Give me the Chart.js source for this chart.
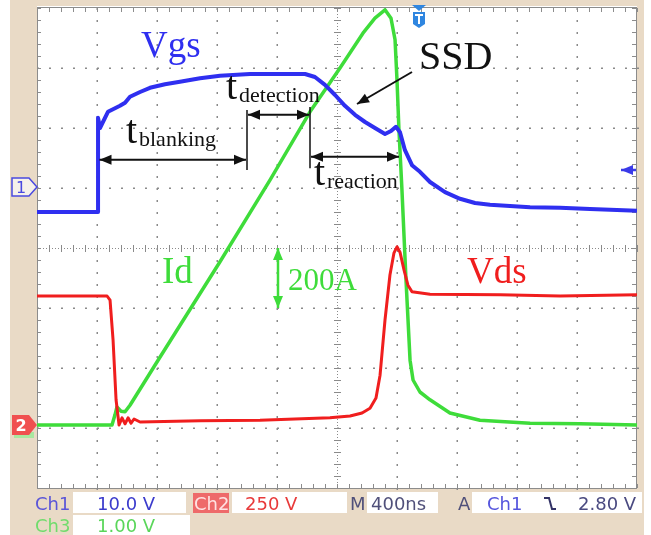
<!DOCTYPE html>
<html>
<head>
<meta charset="utf-8">
<script src="https://cdn.jsdelivr.net/npm/chart.js@4/dist/chart.umd.min.js"></script>
<style>
  body { margin: 0; background: #fff; }
  #wrap { width: 651px; height: 535px; }
</style>
</head>
<body>
<div id="wrap"><canvas id="scope" width="651" height="535"></canvas></div>
<script>
// time in ns (10 div x 400 ns), level in screen divisions (-4..4)
var vgsTime  = [0, 400, 407, 407, 420, 473, 520, 553, 587, 620, 687, 753, 853, 953, 1087, 1220, 1420, 1620, 1787, 1853, 1920, 1987, 2053, 2120, 2187, 2253, 2320, 2360, 2393, 2420, 2453, 2500, 2553, 2620, 2720, 2820, 2920, 3020, 3153, 3287, 3487, 3687, 4000];
var vgsLevel = [0.6, 0.6, 0.6, 2.17, 2.0, 2.27, 2.33, 2.37, 2.42, 2.52, 2.6, 2.67, 2.73, 2.77, 2.83, 2.87, 2.9, 2.9, 2.9, 2.85, 2.72, 2.55, 2.37, 2.22, 2.1, 2.0, 1.9, 1.95, 2.02, 1.93, 1.63, 1.38, 1.27, 1.1, 0.93, 0.82, 0.75, 0.72, 0.7, 0.68, 0.67, 0.65, 0.62];

var vdsTime  = [0, 467, 487, 507, 527, 547, 567, 587, 607, 627, 647, 687, 1087, 1487, 1953, 2087, 2167, 2220, 2260, 2287, 2320, 2353, 2380, 2400, 2420, 2447, 2473, 2500, 2620, 3087, 3487, 4000];
var vdsLevel = [-0.8, -0.8, -0.87, -1.53, -2.53, -2.95, -2.83, -2.93, -2.83, -2.92, -2.85, -2.9, -2.88, -2.87, -2.83, -2.8, -2.75, -2.67, -2.5, -2.12, -1.2, -0.45, -0.08, 0.02, -0.07, -0.37, -0.62, -0.73, -0.77, -0.78, -0.8, -0.78];

var idTime  = [0, 500, 520, 533, 560, 587, 620, 807, 1220, 1553, 1820, 2020, 2173, 2253, 2320, 2360, 2387, 2400, 2413, 2433, 2460, 2487, 2507, 2553, 2620, 2753, 2953, 3287, 3620, 4000];
var idLevel = [-2.95, -2.95, -2.78, -2.65, -2.72, -2.73, -2.62, -1.87, -0.23, 1.13, 2.27, 3.0, 3.58, 3.83, 3.97, 3.83, 3.47, 2.8, 1.97, 0.97, -0.53, -1.87, -2.2, -2.4, -2.53, -2.75, -2.87, -2.92, -2.93, -2.95];

// interval markers (ns)
var markTimes = [410, 1400, 1820, 2420];

var statusRow1 = ['Ch1', '10.0 V', 'Ch2', '250 V', 'M', '400ns', 'A', 'Ch1', '2.80 V'];
var statusRow2 = ['Ch3', '1.00 V'];

var BLUE = '#2f2ff0', RED = '#f01e1e', GREEN = '#3edc3a', BEIGE = '#e9dac6';

function pts(t, v) {
  return t.map(function (x, i) { return { x: x, y: v[i] }; });
}

function arrowHead(ctx, x, y, ang, len, half) {
  ctx.save();
  ctx.translate(x, y);
  ctx.rotate(ang);
  ctx.beginPath();
  ctx.moveTo(0, 0);
  ctx.lineTo(-len, -half);
  ctx.lineTo(-len, half);
  ctx.closePath();
  ctx.fill();
  ctx.restore();
}

function arrow(ctx, x1, y1, x2, y2, both, color, w) {
  var ang = Math.atan2(y2 - y1, x2 - x1);
  ctx.strokeStyle = color;
  ctx.fillStyle = color;
  ctx.lineWidth = w;
  ctx.beginPath();
  ctx.moveTo(x1, y1);
  ctx.lineTo(x2, y2);
  ctx.stroke();
  arrowHead(ctx, x2, y2, ang, 12, 5);
  if (both) arrowHead(ctx, x1, y1, ang + Math.PI, 12, 5);
}

var scopeScreen = {
  id: 'scopeScreen',
  beforeDraw: function (chart) {
    var ctx = chart.ctx, a = chart.chartArea;
    var xs = chart.scales.x, ys = chart.scales.y;
    ctx.save();
    ctx.fillStyle = '#fff';
    ctx.fillRect(0, 0, chart.width, chart.height);
    ctx.fillStyle = BEIGE;
    ctx.fillRect(10, 0, 634, chart.height);
    ctx.fillStyle = '#fff';
    ctx.fillRect(a.left, a.top - 2, a.right - a.left, a.bottom - a.top + 2);

    var step = 12, i, j, p, q;
    ctx.fillStyle = '#8a8a8a';
    // dotted division lines
    for (i = 1; i < 10; i++) {
      if (i === 5) continue;
      p = Math.round(xs.getPixelForValue(i * 400));
      for (q = a.top; q <= a.bottom; q += step) ctx.fillRect(p - 0.5, q, 1.5, 2);
    }
    for (j = -3; j <= 3; j++) {
      if (j === 0) continue;
      p = Math.round(ys.getPixelForValue(j));
      for (q = a.left; q <= a.right; q += step) ctx.fillRect(q, p - 0.5, 2, 1.5);
    }
    // centre cross with minor ticks
    var cx = Math.round(xs.getPixelForValue(2000)), cy = Math.round(ys.getPixelForValue(0));
    for (q = a.top; q <= a.bottom; q += 3) ctx.fillRect(cx, q, 1, 1);
    for (q = a.left; q <= a.right; q += 3) ctx.fillRect(q, cy, 1, 1);
    for (q = a.top; q <= a.bottom; q += step) ctx.fillRect(cx - 3, q, 7, 1);
    for (q = a.left; q <= a.right; q += step) ctx.fillRect(q, cy - 3, 1, 7);
    // frame with ticks
    ctx.fillStyle = '#8c8c8c';
    ctx.fillRect(a.left, a.top - 1, a.right - a.left, 1);
    ctx.fillRect(a.left, a.bottom, a.right - a.left, 1);
    ctx.fillRect(a.left, a.top, 1, a.bottom - a.top);
    ctx.fillRect(a.right - 1, a.top, 1, a.bottom - a.top);
    for (q = a.left; q <= a.right; q += step) {
      ctx.fillRect(q, a.top, 1, 4);
      ctx.fillRect(q, a.bottom - 4, 1, 4);
    }
    for (q = a.top; q <= a.bottom; q += step) {
      ctx.fillRect(a.left, q, 4, 1);
      ctx.fillRect(a.right - 5, q, 4, 1);
    }
    ctx.restore();
  },
  afterDatasetsDraw: function (chart) {
    var ctx = chart.ctx, a = chart.chartArea;
    var xs = chart.scales.x, ys = chart.scales.y;
    var m = markTimes.map(function (t) { return xs.getPixelForValue(t); });
    ctx.save();
    ctx.textBaseline = 'alphabetic';
    ctx.textAlign = 'left';

    // labels of traces
    ctx.font = '37px "Liberation Serif"';
    ctx.fillStyle = BLUE;
    ctx.fillText('Vgs', 141, 57);
    ctx.fillStyle = GREEN;
    ctx.fillText('Id', 162, 283);
    ctx.fillStyle = RED;
    ctx.fillText('Vds', 467, 283);
    ctx.fillStyle = '#111';
    ctx.font = '40px "Liberation Serif"';
    ctx.fillText('SSD', 419, 69);

    // interval labels
    function tLabel(sub, x, y) {
      ctx.fillStyle = '#111';
      ctx.font = '40px "Liberation Serif"';
      ctx.fillText('t', x, y);
      ctx.font = '22px "Liberation Serif"';
      ctx.fillText(sub, x + 13, y + 3);
    }
    tLabel('blanking', 126, 143);
    tLabel('detection', 226, 99);
    tLabel('reaction', 314, 185);

    // interval arrows and marker lines
    ctx.strokeStyle = '#111';
    ctx.lineWidth = 1.5;
    ctx.beginPath();
    ctx.moveTo(m[1], ys.getPixelForValue(2.3));
    ctx.lineTo(m[1], ys.getPixelForValue(1.3));
    ctx.moveTo(m[2], ys.getPixelForValue(2.35));
    ctx.lineTo(m[2], ys.getPixelForValue(1.33));
    ctx.stroke();
    arrow(ctx, m[0] + 1, ys.getPixelForValue(1.47), m[1] - 1, ys.getPixelForValue(1.47), true, '#111', 2);
    arrow(ctx, m[1] + 1, ys.getPixelForValue(2.22), m[2] - 1, ys.getPixelForValue(2.22), true, '#111', 2);
    arrow(ctx, m[2] + 1, ys.getPixelForValue(1.52), m[3] - 1, ys.getPixelForValue(1.52), true, '#111', 2);
    arrow(ctx, 412, 72, 357, 104, false, '#111', 2);

    // 200A scale bar (one division)
    var bx = 278;
    arrow(ctx, bx, ys.getPixelForValue(-1), bx, ys.getPixelForValue(0), true, GREEN, 2.5);
    ctx.fillStyle = GREEN;
    ctx.font = '31px "Liberation Serif"';
    ctx.fillText('200A', 288, 290);

    // trigger marker
    ctx.fillStyle = '#2f86e0';
    ctx.beginPath();
    ctx.moveTo(412, 5); ctx.lineTo(426, 5); ctx.lineTo(419, 11); ctx.closePath();
    ctx.fill();
    ctx.beginPath();
    ctx.moveTo(413, 12); ctx.lineTo(425, 12); ctx.lineTo(425, 24);
    ctx.lineTo(419, 28); ctx.lineTo(413, 24); ctx.closePath();
    ctx.fill();
    ctx.fillStyle = '#fff';
    ctx.fillRect(415, 14, 8, 2);
    ctx.fillRect(418, 14, 2, 10);

    // trigger level arrow on the right
    arrow(ctx, 636, 170, 621, 170, false, '#3a3ae8', 2.5);

    // channel markers
    ctx.lineWidth = 1.5;
    ctx.strokeStyle = '#4a4ae0';
    ctx.fillStyle = '#f6f1ea';
    ctx.beginPath();
    ctx.moveTo(12, 178); ctx.lineTo(29, 178); ctx.lineTo(37, 187);
    ctx.lineTo(29, 196); ctx.lineTo(12, 196); ctx.closePath();
    ctx.fill(); ctx.stroke();
    ctx.fillStyle = '#4a4ae0';
    ctx.font = '16px "DejaVu Sans"';
    ctx.textAlign = 'center';
    ctx.fillText('1', 21, 193);

    ctx.fillStyle = '#a8e8a0';
    ctx.fillRect(14, 432, 20, 6);
    ctx.fillStyle = '#f05050';
    ctx.beginPath();
    ctx.moveTo(12, 415); ctx.lineTo(29, 415); ctx.lineTo(37, 425);
    ctx.lineTo(29, 435); ctx.lineTo(12, 435); ctx.closePath();
    ctx.fill();
    ctx.fillStyle = '#fff';
    ctx.font = 'bold 16px "DejaVu Sans"';
    ctx.fillText('2', 21, 431);

    // status bar
    ctx.textAlign = 'left';
    ctx.font = '18px "DejaVu Sans"';
    ctx.fillStyle = '#fff';
    ctx.fillRect(73, 492, 113, 21);
    ctx.fillRect(232, 492, 115, 21);
    ctx.fillRect(367, 492, 71, 21);
    ctx.fillRect(472, 492, 170, 21);
    ctx.fillRect(73, 515, 117, 20);
    ctx.fillStyle = '#ee6a6a';
    ctx.fillRect(193, 493, 36, 20);

    var r1x = [35, 97, 194, 245, 350, 371, 458, 487, 578];
    var r1c = ['#5a55d8', '#3b3bcc', '#ffe2e2', '#e83a3a', '#50507a', '#50507a', '#50507a', '#5555dd', '#4a4a80'];
    statusRow1.forEach(function (s, i) {
      ctx.fillStyle = r1c[i];
      ctx.fillText(s, r1x[i], 510);
    });
    ctx.fillStyle = '#70dc6c';
    ctx.fillText(statusRow2[0], 35, 532);
    ctx.fillStyle = '#5ad65a';
    ctx.fillText(statusRow2[1], 97, 532);
    // falling edge symbol
    ctx.strokeStyle = '#333366';
    ctx.lineWidth = 2;
    ctx.beginPath();
    ctx.moveTo(544, 498); ctx.lineTo(549, 498); ctx.lineTo(552, 509); ctx.lineTo(556, 509);
    ctx.stroke();
    ctx.restore();
  }
};

new Chart(document.getElementById('scope').getContext('2d'), {
  type: 'line',
  data: {
    datasets: [
      { label: 'Vgs', data: pts(vgsTime, vgsLevel), borderColor: BLUE, borderWidth: 4 },
      { label: 'Vds', data: pts(vdsTime, vdsLevel), borderColor: RED, borderWidth: 3 },
      { label: 'Id', data: pts(idTime, idLevel), borderColor: GREEN, borderWidth: 3.5 }
    ]
  },
  options: {
    responsive: false,
    animation: false,
    devicePixelRatio: 1,
    layout: { padding: { left: 37, right: 14, top: 8, bottom: 47 } },
    elements: {
      point: { radius: 0 },
      line: { tension: 0, borderJoinStyle: 'round' }
    },
    plugins: {
      legend: { display: false },
      tooltip: { enabled: false }
    },
    scales: {
      x: { type: 'linear', min: 0, max: 4000, display: false },
      y: { type: 'linear', min: -4, max: 4, display: false }
    }
  },
  plugins: [scopeScreen]
});
</script>
</body>
</html>
